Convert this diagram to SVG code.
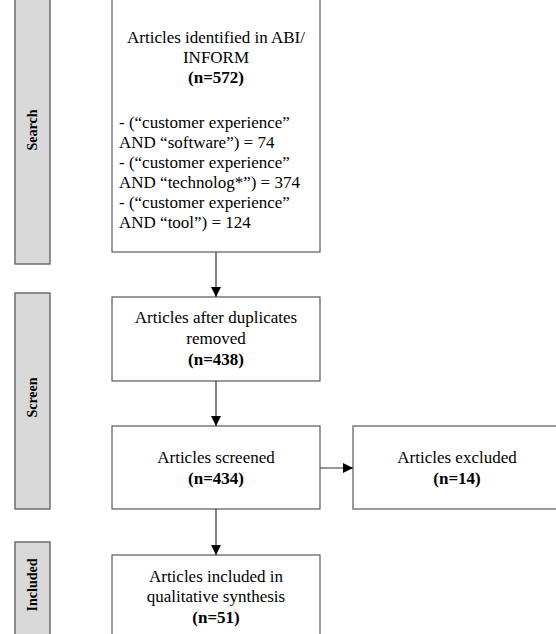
<svg xmlns="http://www.w3.org/2000/svg" width="556" height="634" viewBox="0 0 556 634">
<style>
.bar{fill:#d9d9d9;stroke:#595959;stroke-width:1.3}
.box{fill:#fff;stroke:#595959;stroke-width:1.2}
text{font-family:"Liberation Serif","Times New Roman",serif;font-size:17px;fill:#000}
.c{text-anchor:middle}
.b{font-weight:bold}
.lbl{font-weight:bold;text-anchor:middle;font-size:14px}
.conn{stroke:#333;stroke-width:1.2;fill:none}
</style>
<defs>
<marker id="ah" viewBox="0 0 10 10" refX="10" refY="5" markerWidth="10" markerHeight="10" markerUnits="userSpaceOnUse" orient="auto">
<path d="M0,0 L10,5 L0,10 Z" fill="#000"/>
</marker>
</defs>
<g id="stage-search">
<rect class="bar" x="15" y="-4" width="35" height="268"/>
<text class="lbl" transform="translate(37,130) rotate(-90)">Search</text>
</g>
<g id="stage-screen">
<rect class="bar" x="15" y="293" width="35" height="216"/>
<text class="lbl" transform="translate(37,397.5) rotate(-90)">Screen</text>
</g>
<g id="stage-included">
<rect class="bar" x="15" y="542" width="35" height="100"/>
<text class="lbl" transform="translate(37,585) rotate(-90)">Included</text>
</g>
<g id="node-identified">
<rect class="box" x="112" y="-10" width="208" height="262"/>
<text class="c" x="216" y="43">Articles identified in ABI/</text>
<text class="c" x="216" y="63">INFORM</text>
<text class="c b" x="216" y="83">(n=572)</text>
<text x="119" y="128">- (“customer experience”</text>
<text x="119" y="148">AND “software”) = 74</text>
<text x="119" y="168">- (“customer experience”</text>
<text x="119" y="188">AND “technolog*”) = 374</text>
<text x="119" y="208">- (“customer experience”</text>
<text x="119" y="228">AND “tool”) = 124</text>
</g>
<g id="node-duplicates">
<rect class="box" x="112" y="297" width="208" height="84"/>
<text class="c" x="216" y="323">Articles after duplicates</text>
<text class="c" x="216" y="344">removed</text>
<text class="c b" x="216" y="365">(n=438)</text>
</g>
<g id="node-screened">
<rect class="box" x="112" y="426" width="208" height="83"/>
<text class="c" x="216" y="463">Articles screened</text>
<text class="c b" x="216" y="484">(n=434)</text>
</g>
<g id="node-excluded">
<rect class="box" x="353" y="426" width="208" height="83"/>
<text class="c" x="457" y="463">Articles excluded</text>
<text class="c b" x="457" y="484">(n=14)</text>
</g>
<g id="node-included">
<rect class="box" x="112" y="555" width="208" height="90"/>
<text class="c" x="216" y="582">Articles included in</text>
<text class="c" x="216" y="602">qualitative synthesis</text>
<text class="c b" x="216" y="623">(n=51)</text>
</g>
<g id="connectors">
<line class="conn" x1="216" y1="252" x2="216" y2="297" marker-end="url(#ah)"/>
<line class="conn" x1="216" y1="381" x2="216" y2="426" marker-end="url(#ah)"/>
<line class="conn" x1="216" y1="509" x2="216" y2="555" marker-end="url(#ah)"/>
<line class="conn" x1="320" y1="468" x2="353" y2="468" marker-end="url(#ah)"/>
</g>
</svg>
